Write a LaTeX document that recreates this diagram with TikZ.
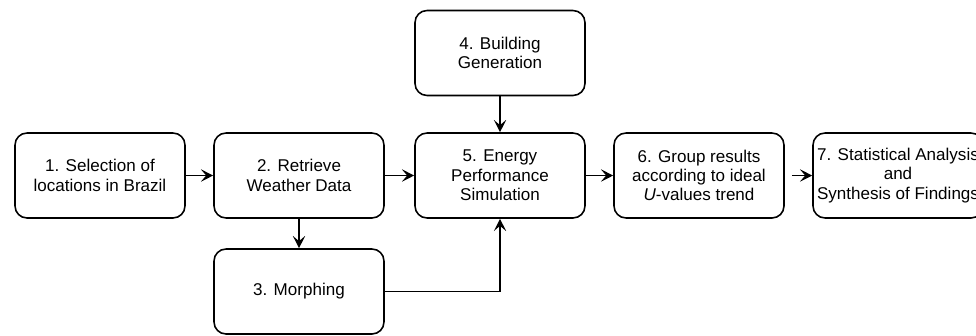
\documentclass[tikz,border=0pt]{standalone}
\usepackage{fontspec}
\setmainfont{Liberation Sans}
\usetikzlibrary{arrows.meta}

\tikzset{
	stepbox/.style={draw, line width=0.9pt, rounded corners=0.24cm, align=center,
		minimum width=3.4cm, minimum height=1.7cm, inner sep=1pt,
		font=\fontsize{9.7}{11}\selectfont},
	flow/.style={line width=0.9pt, -{Stealth[length=7pt,width=7pt,inset=3pt]}}
}

\begin{document}
\begin{tikzpicture}[x=0.02cm, y=-0.02cm]
	\useasboundingbox (0,0) rectangle (976,335);

	% -- Boxes
	\node[stepbox] (select) at (100,175.5) {1. Selection of\\locations in Brazil};
	\node[stepbox] (weather) at (299,175.5) {2. Retrieve\\Weather Data};
	\node[stepbox] (morph) at (299,291.5) {3. Morphing};
	\node[stepbox] (building) at (500,53) {4. Building\\Generation};
	\node[stepbox] (sim) at (500,175.5) {5. Energy\\Performance\\Simulation};
	\node[stepbox] (group) at (699,175.5) {6. Group results\\according to ideal\\\textit{U}-values trend};
	\node[stepbox] (stats) at (898,175.5) {7. Statistical Analysis\\and\\Synthesis of Findings};

	% -- Connectors
	\draw[flow] (select) -- (weather);
	\draw[flow] (weather) -- (sim);
	\draw[flow] (sim) -- (group);
	\draw[flow, shorten <=4pt] (group) -- (stats);
	\draw[flow] (building) -- (sim);
	\draw[flow] (weather) -- (morph);
	\draw[flow] (morph.east) -| (sim.south);
\end{tikzpicture}
\end{document}
